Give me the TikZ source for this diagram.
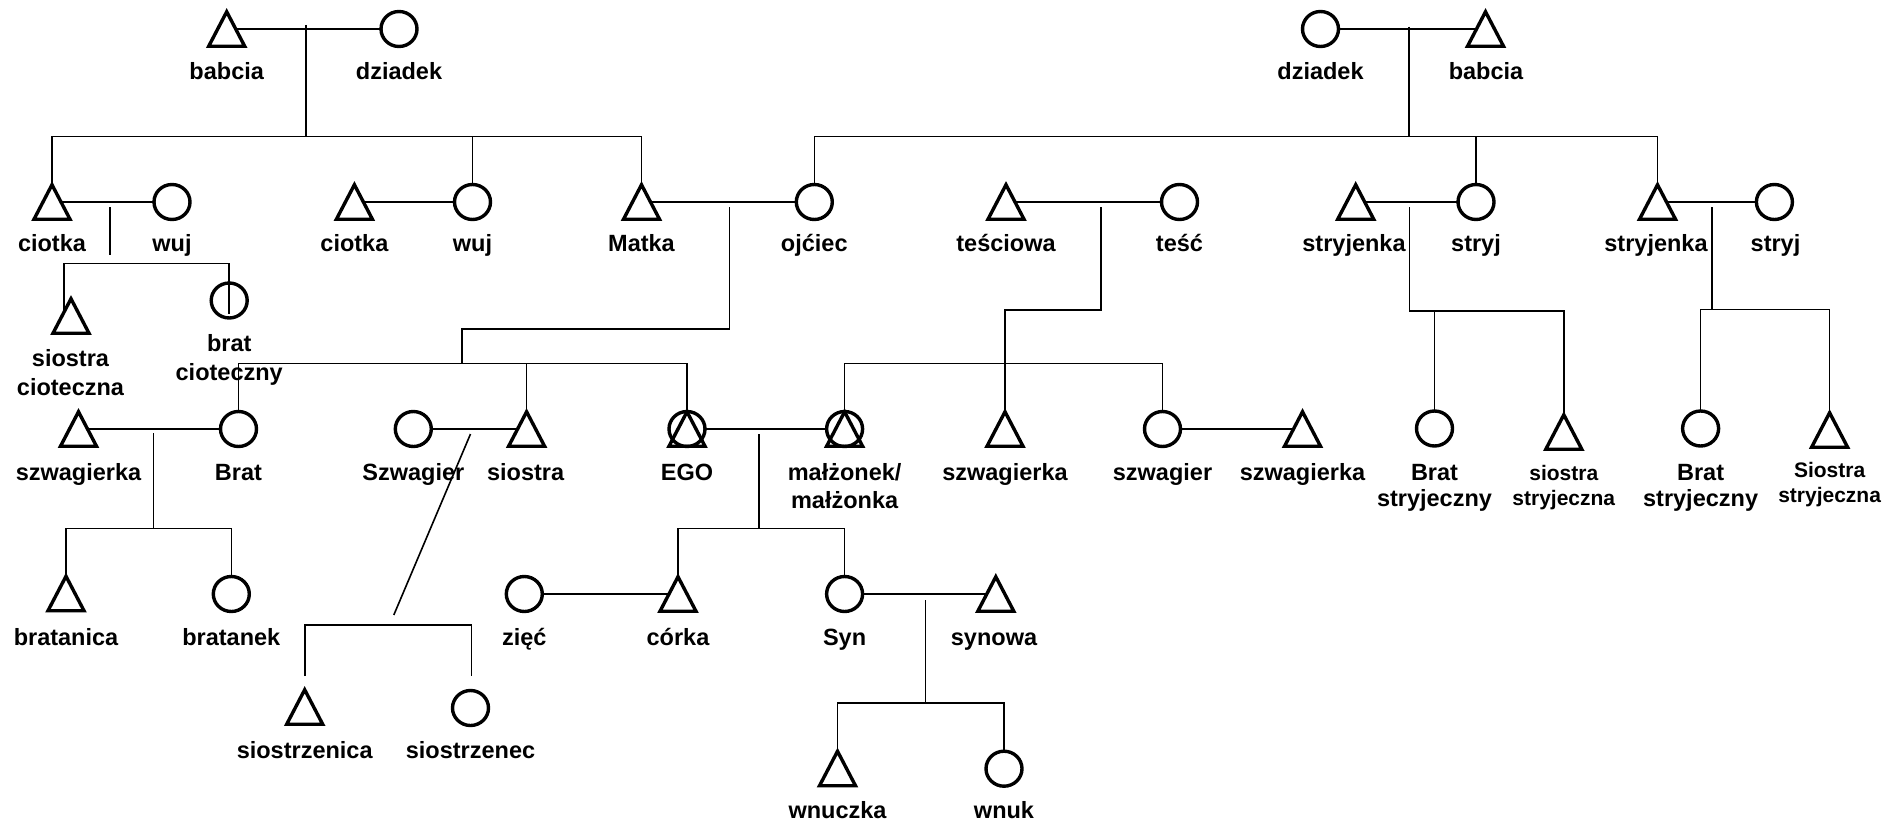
\documentclass[tikz,border=0pt]{standalone}
\usepackage{fontspec}
\setmainfont{Liberation Sans}
\usetikzlibrary{shapes.geometric,calc}
\pgfdeclarelayer{paper}
\pgfdeclarelayer{lines}
\pgfsetlayers{paper,lines,main}
\tikzset{
  outline/.style={draw=black, line width=3.4pt, line join=miter},
  conn/.style={draw=black, line width=1.6pt},
  circ/.style={ellipse, outline, fill=white, minimum width=36pt, minimum height=35pt,
    inner sep=0pt, outer sep=0pt},
  % a triangle symbol occupies this box; its outline is drawn from the box anchors
  tri/.style={rectangle, minimum width=36pt, minimum height=34.5pt, inner sep=0pt, outer sep=0pt},
  lab/.style={font=\bfseries\fontsize{23.5pt}{28pt}\selectfont, inner sep=0pt, anchor=base},
  labs/.style={font=\bfseries\fontsize{21pt}{25pt}\selectfont, inner sep=0pt, anchor=base},
}
\begin{document}
\begin{tikzpicture}[x=1pt, y=-1pt]
\useasboundingbox (0,0) rectangle (1900,824);
\begin{pgfonlayer}{paper}
  \fill[white] (0,0) rectangle (1900,824);
\end{pgfonlayer}

% ---- grandparents
\node[tri]  (babciaL)  at (226.7,29) {};
\node[circ] (dziadekL) at (399,29) {};
\node[circ] (dziadekP) at (1320.5,29) {};
\node[tri]  (babciaP)  at (1485.5,29) {};

% ---- parents' generation
\node[tri]  (ciotkaA)    at (52,202) {};
\node[circ] (wujA)       at (172,202) {};
\node[tri]  (ciotkaB)    at (354.4,202) {};
\node[circ] (wujB)       at (472.5,202) {};
\node[tri]  (matka)      at (641.5,202) {};
\node[circ] (ojciec)     at (814.3,202) {};
\node[tri]  (tesciowa)   at (1006,202) {};
\node[circ] (tesc)       at (1179.5,202) {};
\node[tri]  (stryjenkaA) at (1355.7,202) {};
\node[circ] (stryjA)     at (1476,202) {};
\node[tri]  (stryjenkaB) at (1657.5,202) {};
\node[circ] (stryjB)     at (1774.4,202) {};

% ---- cousins on the mother's side
\node[tri]  (sc) at (71,316) {};
\node[circ] (bc) at (229.2,300.5) {};

% ---- EGO's generation
\node[tri]  (szwA)      at (78.5,429) {};
\node[circ] (bratE)     at (238.5,429) {};
\node[circ] (szwagierL) at (413.3,429) {};
\node[tri]  (siostra)   at (526.6,429) {};
\node[circ] (ego)       at (687,429) {};
\node[tri]  (egoT)      at (687,429) {};
\node[circ] (malz)      at (844.6,429) {};
\node[tri]  (malzT)     at (844.6,429) {};
\node[tri]  (szwB)      at (1005,429) {};
\node[circ] (szwagierP) at (1162.5,429) {};
\node[tri]  (szwC)      at (1302.5,429) {};
\node[circ] (bs1)  at (1434.5,428.5) {};
\node[tri]  (sis1) at (1563.8,432) {};
\node[circ] (bs2)  at (1700.6,428.5) {};
\node[tri]  (sis2) at (1829.6,430) {};

% ---- children's generation
\node[tri]  (bratanica)   at (66,593.5) {};
\node[circ] (bratanek)    at (231.3,594) {};
\node[circ] (ziec)        at (524.3,594) {};
\node[tri]  (corka)       at (678,594) {};
\node[circ] (syn)         at (844.6,594) {};
\node[tri]  (synowa)      at (995.8,594) {};
\node[tri]  (siostrzenica) at (304.7,707) {};
\node[circ] (siostrzenec)  at (470.5,708) {};
\node[tri]  (wnuczka)     at (837.5,768.5) {};
\node[circ] (wnuk)        at (1004,768.7) {};

% ---- triangle outlines (white inside), then the open ones over EGO and spouse
\foreach \n in {babciaL,babciaP,ciotkaA,ciotkaB,matka,tesciowa,stryjenkaA,stryjenkaB,
                sc,szwA,siostra,szwB,szwC,sis1,sis2,bratanica,corka,synowa,
                siostrzenica,wnuczka}
  \draw[outline, fill=white] (\n.north) -- (\n.south east) -- (\n.south west) -- cycle;
\foreach \n in {egoT,malzT}
  \draw[outline] (\n.north) -- (\n.south east) -- (\n.south west) -- cycle;

% ---- junction points of the descent lines
\coordinate (gdL) at (306,25);
\coordinate (barL) at (306,136.7);
\coordinate (gdP) at (1408.8,26.7);
\coordinate (barP) at (1408.8,136.7);
\coordinate (cwTop) at (110,207);
\coordinate (cwBot) at (110,255);
\coordinate (cbL) at (64.2,263.3);
\coordinate (moTop) at (729.3,207);
\coordinate (moTurn) at (462.2,328.7);
\coordinate (sb) at (462.2,363.3);
\coordinate (bsTop) at (153.4,433.3);
\coordinate (bsBot) at (153.4,528.3);
\coordinate (dgTop) at (470.5,434);
\coordinate (dgBot) at (393.8,615);
\coordinate (sbL) at (304.7,625);
\coordinate (sbR) at (471.3,625);
\coordinate (sdL) at (304.7,676);
\coordinate (sdR) at (471.3,676);
\coordinate (emTop) at (758.8,434);
\coordinate (emBot) at (758.8,528.3);
\coordinate (ttTop) at (1100.7,207);
\coordinate (ttTurn) at (1005,310);
\coordinate (ssBar) at (1005,363.3);
\coordinate (snTop) at (925.4,600);
\coordinate (snBot) at (925.4,702.7);
\coordinate (s1Top) at (1409.6,207);
\coordinate (s1Bar) at (1409.6,310.7);
\coordinate (s2Top) at (1712.2,207);
\coordinate (s2Bar) at (1712.2,309.3);

% ---- connectors (drawn beneath the symbols)
\begin{pgfonlayer}{lines}
  \draw[conn] (babciaL.center) -- (dziadekL.center);
  \draw[conn] (gdL) -- (barL);
  \draw[conn] (ciotkaA.center) |- (barL) -| (matka.center);
  \draw[conn] (wujB.center) -- (wujB |- barL);
  \draw[conn] (dziadekP.center) -- (babciaP.center);
  \draw[conn] (gdP) -- (barP);
  \draw[conn] (ojciec.center) |- (barP) -| (stryjenkaB.center);
  \draw[conn] (stryjA.center) -- (stryjA |- barP);

  \draw[conn] (ciotkaA.center) -- (wujA.center);
  \draw[conn] (ciotkaB.center) -- (wujB.center);
  \draw[conn] (matka.center) -- (ojciec.center);
  \draw[conn] (tesciowa.center) -- (tesc.center);
  \draw[conn] (stryjenkaA.center) -- (stryjA.center);
  \draw[conn] (stryjenkaB.center) -- (stryjB.center);

  \draw[conn] (cwTop) -- (cwBot);
  \draw[conn] (sc.center -| cbL) -- (cbL) -| (bc.north);

  \draw[conn] (moTop) |- (moTurn) -- (sb);
  \draw[conn] (bratE.center) |- (sb) -| (ego.center);
  \draw[conn] (siostra.center) -- (siostra |- sb);

  \draw[conn] (szwA.center) -- (bratE.center);
  \draw[conn] (bsTop) -- (bsBot);
  \draw[conn] (bratanica.center) |- (bsBot) -| (bratanek.center);

  \draw[conn] (szwagierL.center) -- (siostra.center);
  \draw[conn] (dgTop) -- (dgBot);
  \draw[conn] (sdL) -- (sbL) -- (sbR) -- (sdR);

  \draw[conn] (ego.center) -- (malz.center);
  \draw[conn] (emTop) -- (emBot);
  \draw[conn] (corka.center) |- (emBot) -| (syn.center);

  \draw[conn] (ttTop) |- (ttTurn) -- (szwB.center);
  \draw[conn] (malz.center) |- (ssBar) -| (szwagierP.center);
  \draw[conn] (szwagierP.center) -- (szwC.center);

  \draw[conn] (ziec.center) -- (corka.center);
  \draw[conn] (syn.center) -- (synowa.center);
  \draw[conn] (snTop) -- (snBot);
  \draw[conn] (wnuczka.center) |- (snBot) -| (wnuk.center);

  \draw[conn] (s1Top) -- (s1Bar) -| (sis1.center);
  \draw[conn] (bs1.center) -- (bs1 |- s1Bar);
  \draw[conn] (s2Top) -- (s2Bar);
  \draw[conn] (bs2.center) |- (s2Bar) -| (sis2.center);
\end{pgfonlayer}

% the line into the cousin's circle stays visible
\draw[conn] (bc.north) -- ($(bc.south)+(0,-4)$);

% ---- labels
\node[lab] (tBabciaL)  at (226.7,80) {babcia};
\node[lab] (tDziadekL) at (399,80) {dziadek};
\node[lab] (tDziadekP) at (1320.5,80) {dziadek};
\node[lab] (tBabciaP)  at (1486,80) {babcia};

\node[lab] (tCiotkaA)    at (52,251) {ciotka};
\node[lab] (tWujA)       at (172,251) {wuj};
\node[lab] (tCiotkaB)    at (354.4,251) {ciotka};
\node[lab] (tWujB)       at (472.5,251) {wuj};
\node[lab] (tMatka)      at (641.5,251) {Matka};
\node[lab] (tOjciec)     at (814.3,251) {ojćiec};
\node[lab] (tTesciowa)   at (1006,251) {teściowa};
\node[lab] (tTesc)       at (1179.5,251) {teść};
\node[lab] (tStryjenkaA) at (1354,251) {stryjenka};
\node[lab] (tStryjA)     at (1476,251) {stryj};
\node[lab] (tStryjenkaB) at (1656,251) {stryjenka};
\node[lab] (tStryjB)     at (1775.5,251) {stryj};

\node[lab] (tSc1) at (70.5,366.7) {siostra};
\node[lab] (tSc2) at (70.5,395) {cioteczna};
\node[lab] (tBc1) at (229.2,351.7) {brat};
\node[lab] (tBc2) at (229.2,380) {cioteczny};

\node[lab] (tSzwA)      at (78.5,480) {szwagierka};
\node[lab] (tBratE)     at (238.5,480) {Brat};
\node[lab] (tSzwagierL) at (413.3,480) {Szwagier};
\node[lab] (tSiostra)   at (525.6,480) {siostra};
\node[lab] (tEgo)       at (687,480) {EGO};
\node[lab] (tMalz1)     at (844.6,480) {małżonek/};
\node[lab] (tMalz2)     at (844.6,508) {małżonka};
\node[lab] (tSzwB)      at (1005,480) {szwagierka};
\node[lab] (tSzwagierP) at (1162.5,480) {szwagier};
\node[lab] (tSzwC)      at (1302.5,480) {szwagierka};

\node[lab]  (tBs1a)  at (1434.5,480) {Brat};
\node[lab]  (tBs1b)  at (1434.5,506.7) {stryjeczny};
\node[labs] (tSis1a) at (1563.8,480) {siostra};
\node[labs] (tSis1b) at (1563.8,505) {stryjeczna};
\node[lab]  (tBs2a)  at (1700.6,480) {Brat};
\node[lab]  (tBs2b)  at (1700.6,506.7) {stryjeczny};
\node[labs] (tSis2a) at (1829.6,477.3) {Siostra};
\node[labs] (tSis2b) at (1829.6,502.7) {stryjeczna};

\node[lab] (tBratanica) at (66,645) {bratanica};
\node[lab] (tBratanek)  at (231.3,645) {bratanek};
\node[lab] (tZiec)      at (524.3,645) {zięć};
\node[lab] (tCorka)     at (678,645) {córka};
\node[lab] (tSyn)       at (844.6,645) {Syn};
\node[lab] (tSynowa)    at (994,645) {synowa};
\node[lab] (tSiostrzenica) at (304.7,758) {siostrzenica};
\node[lab] (tSiostrzenec)  at (470.5,758) {siostrzenec};
\node[lab] (tWnuczka) at (837.5,818) {wnuczka};
\node[lab] (tWnuk)    at (1004,818) {wnuk};
\end{tikzpicture}
\end{document}
